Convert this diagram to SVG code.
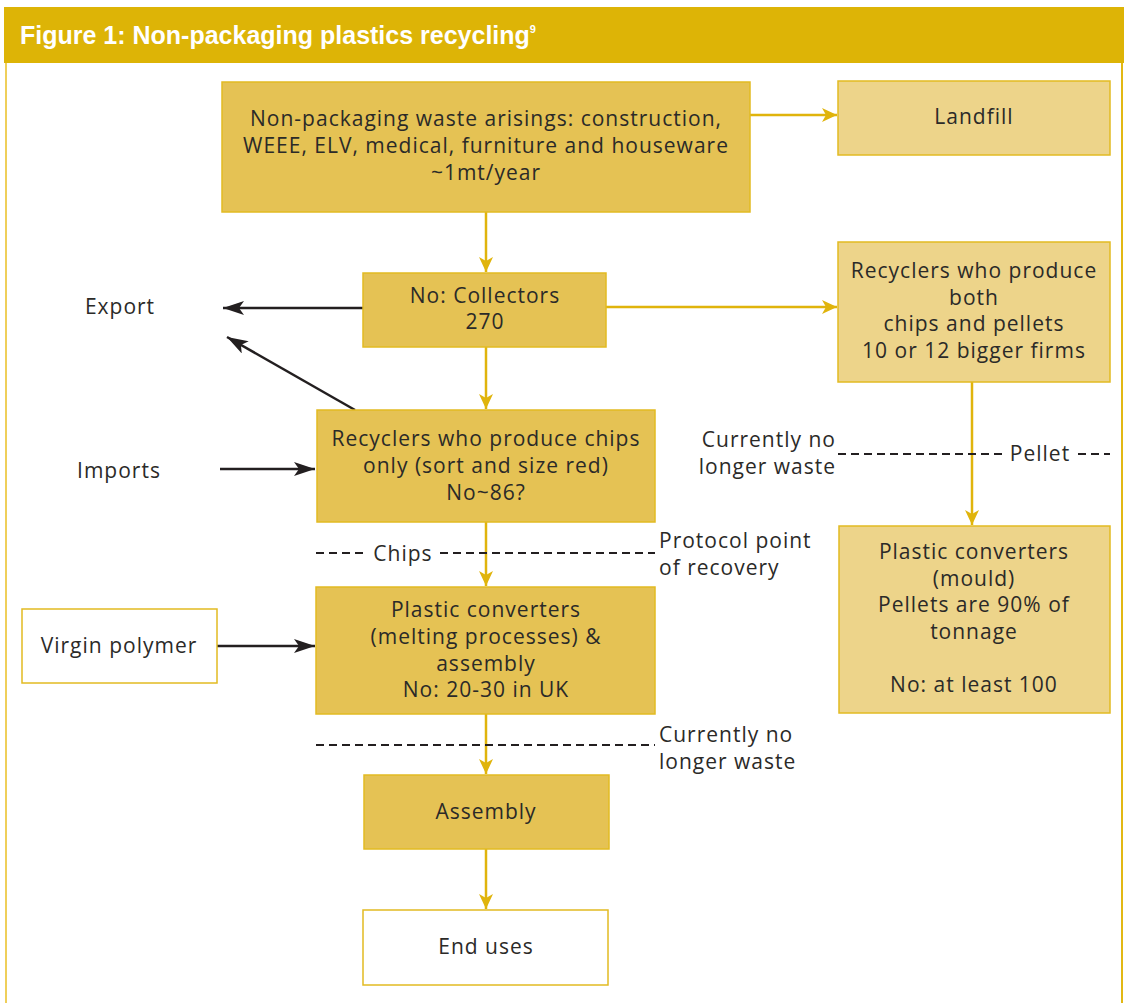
<svg xmlns="http://www.w3.org/2000/svg" width="1126" height="1003" viewBox="0 0 1126 1003">
<defs>
<style>
.t{font-family:"Open Sans","Liberation Sans","DejaVu Sans",sans-serif;font-size:21px;letter-spacing:1px;fill:#2b2a28;text-anchor:middle}
.l{text-anchor:start}
.r{text-anchor:end}
.dk{fill:#e5c254;stroke:#e2bb22;stroke-width:1.5}
.lt{fill:#edd48a;stroke:#e2bb22;stroke-width:1.5}
.wh{fill:#ffffff;stroke:#e2bb22;stroke-width:1.5}
.ya{stroke:#e0b40c;stroke-width:2.5;fill:none;marker-end:url(#ay)}
.ba{stroke:#231f20;stroke-width:2.5;fill:none;marker-end:url(#ab)}
.ds{stroke:#231f20;stroke-width:2;stroke-dasharray:8,5;fill:none}
</style>
<marker id="ay" markerUnits="userSpaceOnUse" markerWidth="16" markerHeight="14" refX="15" refY="7" orient="auto"><path d="M0,0 L15,7 L0,14 L4,7 Z" fill="#e0b40c"/></marker>
<marker id="ab" markerUnits="userSpaceOnUse" markerWidth="22" markerHeight="14" refX="21" refY="7" orient="auto"><path d="M0,0 L21,7 L0,14 L5,7 Z" fill="#231f20"/></marker>
</defs>
<rect x="0" y="0" width="1126" height="1003" fill="#ffffff"/>
<g id="frame">
<line x1="6" y1="60" x2="6" y2="1003" stroke="#efcf5a" stroke-width="2"/>
<line x1="1122" y1="48" x2="1122" y2="1003" stroke="#e2b814" stroke-width="2"/>
<rect x="4" y="7" width="1120" height="56" fill="#ddb406"/>
<text x="20" y="44" style="font-family:'Liberation Sans','DejaVu Sans',sans-serif;font-size:25px;font-weight:bold;fill:#ffffff">Figure 1: Non-packaging plastics recycling<tspan dy="-11" font-size="11">9</tspan></text>
</g>
<g id="connectors">
<line class="ya" x1="750" y1="115" x2="837" y2="115"/>
<line class="ya" x1="486" y1="212" x2="486" y2="272"/>
<line class="ya" x1="606" y1="307" x2="837" y2="307"/>
<line class="ya" x1="486" y1="347" x2="486" y2="409"/>
<line class="ya" x1="486" y1="522" x2="486" y2="586"/>
<line class="ya" x1="486" y1="714" x2="486" y2="774"/>
<line class="ya" x1="486" y1="849" x2="486" y2="909"/>
<line class="ya" x1="972" y1="382" x2="972" y2="525"/>
<line class="ba" x1="363" y1="308" x2="223" y2="308"/>
<line class="ba" x1="355" y1="410" x2="227" y2="337"/>
<line class="ba" x1="220" y1="469" x2="315" y2="469"/>
<line class="ba" x1="217" y1="646" x2="315" y2="646"/>
<line class="ds" x1="838" y1="454" x2="1003" y2="454"/>
<line class="ds" x1="1078" y1="454" x2="1110" y2="454"/>
<line class="ds" x1="316" y1="553" x2="364" y2="553"/>
<line class="ds" x1="440" y1="553" x2="655" y2="553"/>
<line class="ds" x1="316" y1="745" x2="655" y2="745"/>
</g>
<g id="n-arisings">
<rect class="dk" x="222" y="82" width="528" height="130"/>
<text class="t" x="486" y="126">Non-packaging waste arisings: construction,</text>
<text class="t" x="486" y="153">WEEE, ELV, medical, furniture and houseware</text>
<text class="t" x="486" y="180">~1mt/year</text>
</g>
<g id="n-landfill">
<rect class="lt" x="838" y="81" width="272" height="74"/>
<text class="t" x="974" y="124">Landfill</text>
</g>
<g id="n-collectors">
<rect class="dk" x="363" y="273" width="243" height="74"/>
<text class="t" x="485" y="303">No: Collectors</text>
<text class="t" x="485" y="329">270</text>
</g>
<g id="n-both">
<rect class="lt" x="838" y="242" width="272" height="140"/>
<text class="t" x="974" y="278">Recyclers who produce</text>
<text class="t" x="974" y="305">both</text>
<text class="t" x="974" y="331">chips and pellets</text>
<text class="t" x="974" y="358">10 or 12 bigger firms</text>
</g>
<g id="n-export"><text class="t" x="120" y="314">Export</text></g>
<g id="n-imports"><text class="t" x="119" y="478">Imports</text></g>
<g id="n-chips">
<rect class="dk" x="317" y="410" width="338" height="112"/>
<text class="t" x="486" y="446">Recyclers who produce chips</text>
<text class="t" x="486" y="473">only (sort and size red)</text>
<text class="t" x="486" y="500">No~86?</text>
</g>
<g id="lbl-nolonger1">
<text class="t r" x="836" y="447">Currently no</text>
<text class="t r" x="836" y="474">longer waste</text>
<text class="t" x="1040" y="461">Pellet</text>
</g>
<g id="lbl-chips">
<text class="t" x="403" y="561">Chips</text>
<text class="t l" x="659" y="548">Protocol point</text>
<text class="t l" x="659" y="575">of recovery</text>
</g>
<g id="n-virgin">
<rect class="wh" x="22" y="609" width="195" height="74"/>
<text class="t" x="119" y="653">Virgin polymer</text>
</g>
<g id="n-melting">
<rect class="dk" x="316" y="587" width="339" height="127"/>
<text class="t" x="486" y="617">Plastic converters</text>
<text class="t" x="486" y="644">(melting processes) &amp;</text>
<text class="t" x="486" y="671">assembly</text>
<text class="t" x="486" y="697">No: 20-30 in UK</text>
</g>
<g id="n-mould">
<rect class="lt" x="839" y="526" width="271" height="187"/>
<text class="t" x="974" y="559">Plastic converters</text>
<text class="t" x="974" y="586">(mould)</text>
<text class="t" x="974" y="612">Pellets are 90% of</text>
<text class="t" x="974" y="639">tonnage</text>
<text class="t" x="974" y="692">No: at least 100</text>
</g>
<g id="lbl-nolonger2">
<text class="t l" x="659" y="742">Currently no</text>
<text class="t l" x="659" y="769">longer waste</text>
</g>
<g id="n-assembly">
<rect class="dk" x="364" y="775" width="245" height="74"/>
<text class="t" x="486" y="819">Assembly</text>
</g>
<g id="n-enduses">
<rect class="wh" x="363" y="910" width="245" height="75"/>
<text class="t" x="486" y="954">End uses</text>
</g>
</svg>
